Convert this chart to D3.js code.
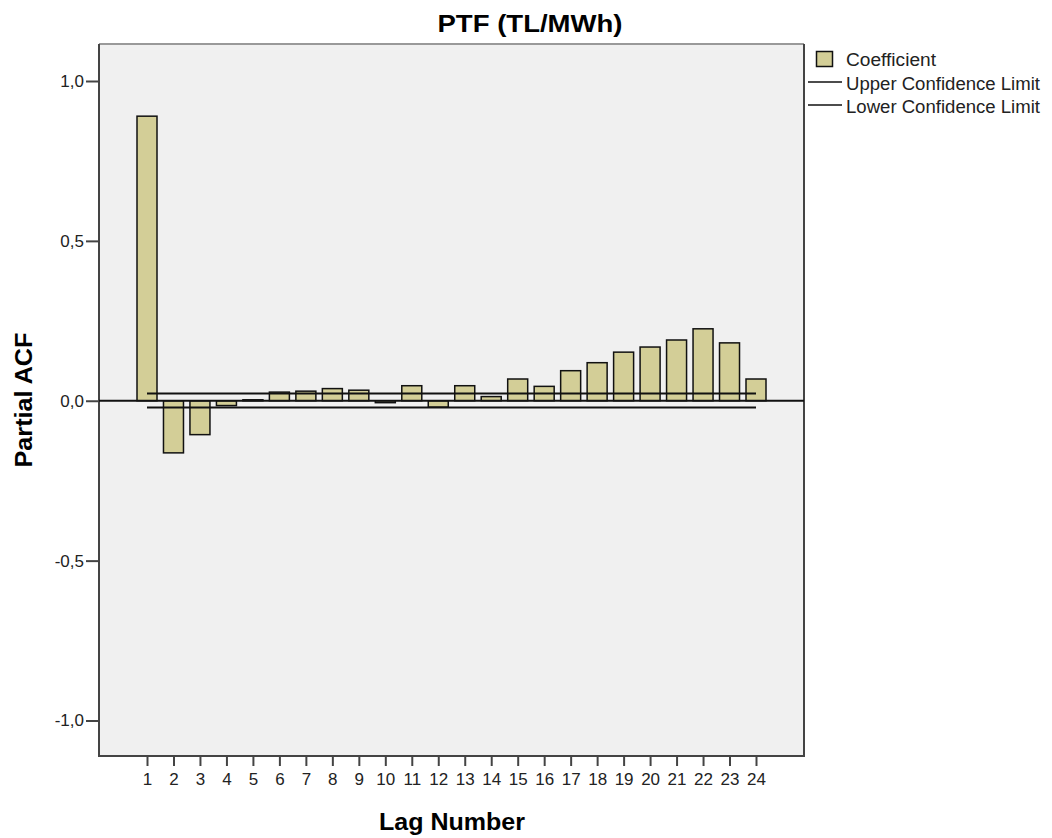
<!DOCTYPE html>
<html>
<head>
<meta charset="utf-8">
<script src="https://cdn.jsdelivr.net/npm/d3@7"></script>
<style>
  body { margin: 0; background: #fff; }
  text { font-family: "Liberation Sans", Arial, sans-serif; }
</style>
</head>
<body>
<script>
// lag numbers and partial autocorrelation coefficients
var lags = [1, 2, 3, 4, 5, 6, 7, 8, 9, 10, 11, 12, 13, 14, 15, 16, 17, 18, 19, 20, 21, 22, 23, 24];
var coefficients = [0.89, -0.163, -0.106, -0.015, 0.003, 0.027, 0.03, 0.038, 0.033, -0.006, 0.047, -0.02,
                    0.047, 0.013, 0.068, 0.045, 0.094, 0.119, 0.152, 0.168, 0.19, 0.225, 0.181, 0.068];
var upperLimit = 0.023;
var lowerLimit = -0.021;
var yTicks = [-1, -0.5, 0, 0.5, 1];
var legendLabels = ["Coefficient", "Upper Confidence Limit", "Lower Confidence Limit"];

(function(){
  var width = 1052, height = 838;
  var plot = { left: 99, top: 44, right: 804, bottom: 756 };

  var svg = d3.select("body").append("svg")
      .attr("width", width)
      .attr("height", height);

  var x = d3.scaleLinear()
      .domain([1, 24])
      .range([147, 756]);
  var y = d3.scaleLinear()
      .domain([-1, 1])
      .range([720.5, 81]);

  // plot background and frame
  svg.append("rect")
      .attr("x", plot.left).attr("y", plot.top)
      .attr("width", plot.right - plot.left)
      .attr("height", plot.bottom - plot.top)
      .attr("fill", "#f0f0f0");
  svg.append("line")
      .attr("x1", plot.left).attr("x2", plot.right)
      .attr("y1", plot.top).attr("y2", plot.top)
      .attr("stroke", "#999").attr("stroke-width", 2);
  svg.append("path")
      .attr("d", "M" + plot.left + "," + plot.top + "V" + plot.bottom + "H" + plot.right + "V" + plot.top)
      .attr("fill", "none")
      .attr("stroke", "#444").attr("stroke-width", 2);

  // bars
  var barW = 20;
  svg.selectAll("rect.bar")
      .data(lags)
      .enter().append("rect")
      .attr("class", "bar")
      .attr("x", (d) => x(d) - barW / 2)
      .attr("y", (d, i) => Math.min(y(coefficients[i]), y(0)))
      .attr("width", barW)
      .attr("height", (d, i) => Math.max(Math.abs(y(coefficients[i]) - y(0)), 1))
      .attr("fill", "#d3ce97")
      .attr("stroke", "#111")
      .attr("stroke-width", 1.5);

  // confidence limits
  [upperLimit, lowerLimit].forEach((v) => {
    svg.append("line")
        .attr("x1", x(1)).attr("x2", x(24))
        .attr("y1", y(v)).attr("y2", y(v))
        .attr("stroke", "#111")
        .attr("stroke-width", 2);
  });

  // zero line
  svg.append("line")
      .attr("x1", plot.left).attr("x2", plot.right)
      .attr("y1", y(0)).attr("y2", y(0))
      .attr("stroke", "#111")
      .attr("stroke-width", 2);

  // y axis
  var yAxis = d3.axisLeft(y)
      .tickValues(yTicks)
      .tickSize(13)
      .tickPadding(2)
      .tickFormat((d) => d3.format(".1f")(d).replace(".", ",").replace("−", "-"));
  var gy = svg.append("g")
      .attr("transform", "translate(" + plot.left + ",0)")
      .call(yAxis);
  gy.select(".domain").remove();
  gy.selectAll("line").attr("stroke", "#444").attr("stroke-width", 2);
  gy.selectAll("text").attr("font-size", 17).attr("fill", "#222");

  // x axis
  var xAxis = d3.axisBottom(x)
      .tickValues(lags)
      .tickSize(10)
      .tickPadding(7)
      .tickFormat(d3.format("d"));
  var gx = svg.append("g")
      .attr("transform", "translate(0," + plot.bottom + ")")
      .call(xAxis);
  gx.select(".domain").remove();
  gx.selectAll("line").attr("stroke", "#444").attr("stroke-width", 2);
  gx.selectAll("text").attr("font-size", 17).attr("fill", "#222");

  // title and axis labels
  svg.append("text")
      .attr("x", 530).attr("y", 32)
      .attr("text-anchor", "middle")
      .attr("font-size", 24).attr("font-weight", "bold")
      .attr("textLength", 185).attr("lengthAdjust", "spacingAndGlyphs")
      .text("PTF (TL/MWh)");
  svg.append("text")
      .attr("x", 452).attr("y", 830)
      .attr("text-anchor", "middle")
      .attr("font-size", 24).attr("font-weight", "bold")
      .attr("textLength", 146).attr("lengthAdjust", "spacingAndGlyphs")
      .text("Lag Number");
  svg.append("text")
      .attr("transform", "translate(32,400) rotate(-90)")
      .attr("text-anchor", "middle")
      .attr("font-size", 24).attr("font-weight", "bold")
      .attr("textLength", 135).attr("lengthAdjust", "spacingAndGlyphs")
      .text("Partial ACF");

  // legend
  var lg = svg.append("g");
  lg.append("rect")
      .attr("x", 816.5).attr("y", 51.5)
      .attr("width", 16).attr("height", 15)
      .attr("fill", "#d3ce97").attr("stroke", "#111").attr("stroke-width", 1.5);
  [82, 105].forEach((ly) => {
    lg.append("line")
        .attr("x1", 808).attr("x2", 842)
        .attr("y1", ly).attr("y2", ly)
        .attr("stroke", "#111").attr("stroke-width", 1.5);
  });
  var legendWidths = [90, 194, 194];
  legendLabels.forEach((t, i) => {
    lg.append("text")
        .attr("x", 846)
        .attr("y", 66 + i * 23.5)
        .attr("font-size", 18).attr("fill", "#222")
        .attr("textLength", legendWidths[i]).attr("lengthAdjust", "spacingAndGlyphs")
        .text(t);
  });
})();
</script>
</body>
</html>
